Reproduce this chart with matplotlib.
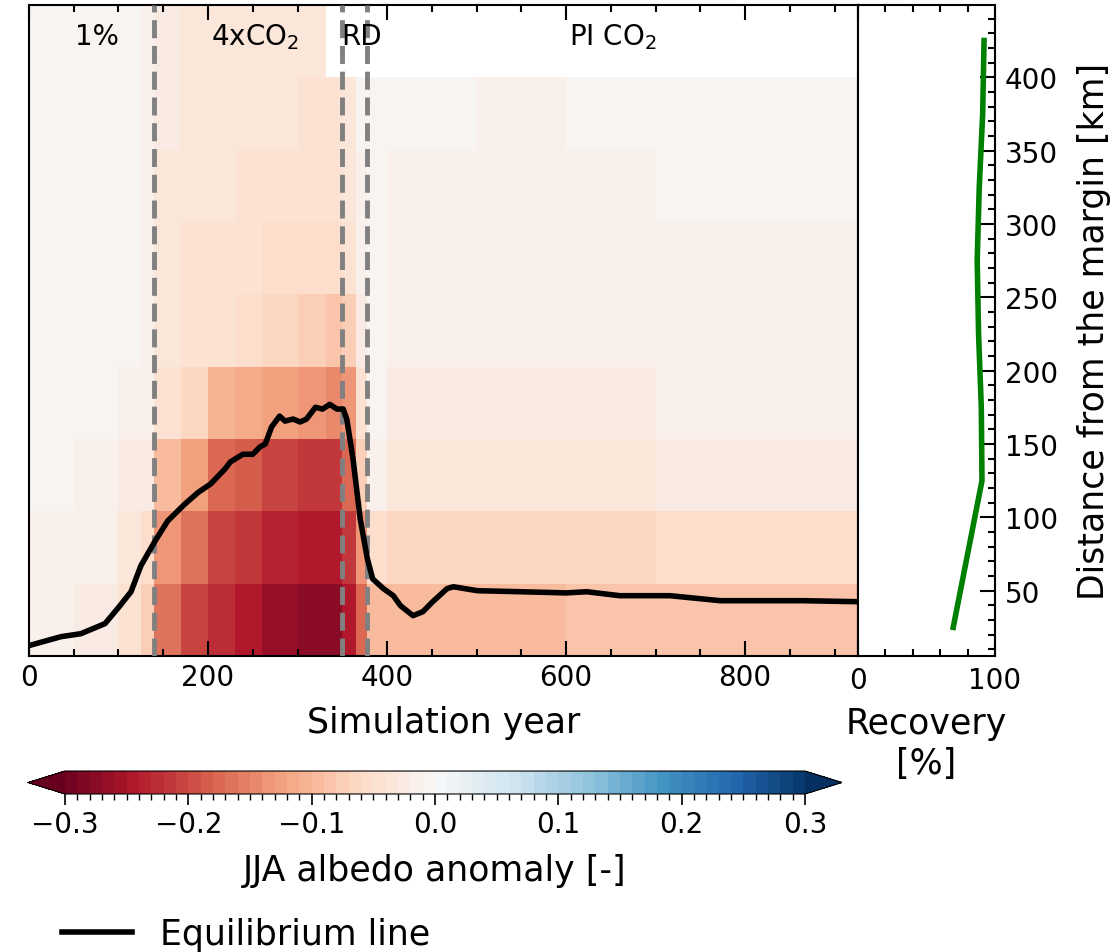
import numpy as np
import matplotlib.pyplot as plt
from matplotlib.colors import BoundaryNorm
from matplotlib.lines import Line2D
from matplotlib.ticker import MultipleLocator

# albedo anomaly field: time segments (years) x distance bands (km)
year_edges = [0, 50, 100, 125, 140, 170, 200, 230, 260, 300, 332, 350, 365, 378, 400, 500, 600, 700, 800, 926]
dist_edges = [5.5, 54.8, 104.1, 153.4, 202.7, 252.0, 301.3, 350.6, 399.9, 449.2]

band_0 = [-0.02, -0.03, -0.05, -0.08, -0.17, -0.21, -0.23, -0.25, -0.27, -0.28, -0.28, -0.25, -0.18, -0.10, -0.10, -0.10, -0.09, -0.09, -0.09]
band_1 = [-0.02, -0.02, -0.04, -0.06, -0.14, -0.17, -0.21, -0.22, -0.24, -0.25, -0.25, -0.22, -0.14, -0.06, -0.07, -0.07, -0.07, -0.06, -0.06]
band_2 = [-0.01, -0.02, -0.03, -0.03, -0.10, -0.13, -0.18, -0.19, -0.21, -0.22, -0.22, -0.18, -0.08, -0.02, -0.04, -0.04, -0.04, -0.03, -0.03]
band_3 = [-0.01, -0.01, -0.02, -0.02, -0.05, -0.07, -0.11, -0.12, -0.13, -0.14, -0.15, -0.14, -0.05, -0.01, -0.03, -0.03, -0.025, -0.02, -0.02]
band_4 = [-0.01, -0.01, -0.01, -0.02, -0.04, -0.05, -0.05, -0.06, -0.07, -0.08, -0.09, -0.08, -0.03, -0.003, -0.02, -0.02, -0.02, -0.02, -0.02]
band_5 = [-0.01, -0.01, -0.01, -0.02, -0.04, -0.05, -0.05, -0.05, -0.06, -0.06, -0.06, -0.05, -0.02, -0.003, -0.02, -0.02, -0.015, -0.015, -0.015]
band_6 = [-0.005, -0.01, -0.01, -0.02, -0.04, -0.04, -0.04, -0.05, -0.05, -0.05, -0.05, -0.04, -0.02, -0.003, -0.015, -0.015, -0.015, -0.01, -0.01]
band_7 = [-0.005, -0.005, -0.01, -0.02, -0.03, -0.04, -0.04, -0.04, -0.04, -0.05, -0.05, -0.04, -0.01, -0.003, -0.01, -0.015, -0.01, -0.01, -0.01]
band_8 = [-0.003, -0.005, -0.01, -0.02, -0.03, -0.04, -0.04, -0.04, -0.04, -0.04] + [np.nan] * 9

# equilibrium line
ela_year = [0, 36, 58, 85, 99, 114, 125, 141, 155, 174, 189, 203, 219, 225, 239, 250, 258, 264, 271, 280,
            286, 295, 303, 310, 320, 328, 336, 344, 351, 355, 362, 370, 378, 384, 396, 407, 415, 429, 440,
            451, 467, 474, 501, 549, 600, 623, 660, 716, 772, 820, 865, 926]
ela_km = [12.6, 18.7, 20.7, 27.6, 37.8, 49.3, 67, 84, 97.6, 109, 117, 122.8, 133, 137.8, 143, 143, 148, 150, 161.6, 169,
          165.6, 167, 165, 167, 175, 173.8, 177, 173.8, 173.8, 167, 139.8, 99, 71.8, 58, 51.4, 46.6, 39.8, 33, 35.7,
          42.5, 51.4, 52.7, 50, 49.3, 48.5, 49.3, 46.6, 46.6, 43.2, 43.2, 43.2, 42.5]

# recovery profile
rec_dist = [25, 75, 125, 175, 225, 275, 325, 375, 425]
rec_pct = [69.5, 80, 90.5, 90, 88, 87, 88.5, 91, 92]

phase_names = ['1%', '4xCO$_2$', 'RD', 'PI CO$_2$']
phase_pos = [76, 252, 372, 652]
phase_bounds = [140, 350, 378]

levels = np.round(np.arange(-0.3, 0.3001, 0.01), 3)

fig = plt.figure(figsize=(11.1, 9.53), dpi=100)
ax = fig.add_axes([0.0261, 0.3106, 0.7468, 0.6831])
ax2 = fig.add_axes([0.7730, 0.3106, 0.1234, 0.6831])
cax = fig.add_axes([0.0252, 0.1658, 0.7333, 0.0241])

cmap = plt.get_cmap('RdBu')
norm = BoundaryNorm(levels, ncolors=cmap.N, extend='both')
albedo = np.ma.masked_invalid(np.array([band_0, band_1, band_2, band_3, band_4,
                                        band_5, band_6, band_7, band_8]))
mesh = ax.pcolormesh(year_edges, dist_edges, albedo, cmap=cmap, norm=norm, shading='flat')

for b in phase_bounds:
    ax.axvline(b, color='grey', lw=3.5, ls='--', zorder=3)
ax.plot(ela_year, ela_km, color='black', lw=4, zorder=4)
for name, pos in zip(phase_names, phase_pos):
    ax.text(pos, 428, name, ha='center', va='center', fontsize=20, zorder=5)

ax.set_xlim(year_edges[0], year_edges[-1])
ax.set_ylim(dist_edges[0], dist_edges[-1])
ax.xaxis.set_major_locator(MultipleLocator(200))
ax.xaxis.set_minor_locator(MultipleLocator(50))
ax.tick_params(which='both', direction='in', top=True, left=False, labelleft=False, width=1.5)
ax.tick_params(which='major', length=10.5, labelsize=20, pad=5)
ax.tick_params(which='minor', length=5)
ax.set_xlabel('Simulation year', fontsize=25, labelpad=10)

ax2.plot(rec_pct, rec_dist, color='green', lw=4)
ax2.set_xlim(0, 100)
ax2.set_ylim(dist_edges[0], dist_edges[-1])
ax2.set_xticks([0, 100])
ax2.xaxis.set_minor_locator(MultipleLocator(20))
ax2.yaxis.set_major_locator(MultipleLocator(50))
ax2.yaxis.set_minor_locator(MultipleLocator(10))
ax2.yaxis.set_label_position('right')
ax2.tick_params(which='both', direction='in', top=True, left=False, right=True,
                labelleft=False, labelright=True, width=1.5)
ax2.tick_params(which='major', length=10.5, labelsize=20, pad=7)
ax2.tick_params(which='minor', length=5)
ax2.set_xlabel('Recovery\n[%]', fontsize=25, labelpad=9)
ax2.set_ylabel('Distance from the margin [km]', fontsize=25, labelpad=14)

for a in (ax, ax2):
    for s in a.spines.values():
        s.set_linewidth(1.5)

cb = fig.colorbar(mesh, cax=cax, orientation='horizontal', extend='both')
cb.set_ticks([-0.3, -0.2, -0.1, 0.0, 0.1, 0.2, 0.3])
cb.ax.xaxis.set_minor_locator(MultipleLocator(0.01))
cb.ax.tick_params(which='major', length=8, width=1.2, labelsize=20)
cb.ax.tick_params(which='minor', length=4, width=1)
cb.set_label('JJA albedo anomaly [-]', fontsize=25, labelpad=11)

handle = Line2D([], [], color='black', lw=4)
fig.legend([handle], ['Equilibrium line'], loc='center left', bbox_to_anchor=(0.028, 1 - 935 / 953),
           frameon=False, fontsize=25)

fig.savefig('out.png', dpi=100)
